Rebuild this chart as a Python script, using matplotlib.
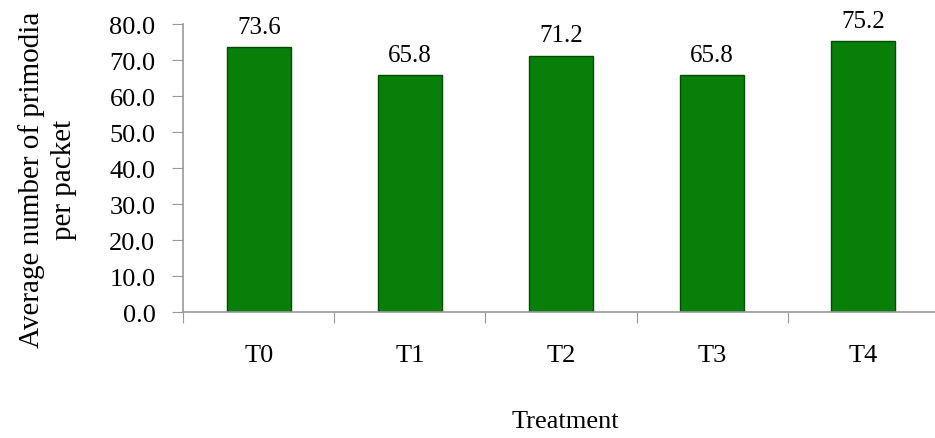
import numpy as np
import matplotlib
matplotlib.use("Agg")
import matplotlib.pyplot as plt

# Primordia counts per treatment
treatments = ["T0", "T1", "T2", "T3", "T4"]
primordia = [73.6, 65.8, 71.2, 65.8, 75.2]

plt.rcParams["font.family"] = ["Liberation Serif", "DejaVu Serif"]

fig = plt.figure(figsize=(9.35, 4.39), dpi=100)
ax = fig.add_axes([0.196, 0.287, 0.808, 0.656])

x = np.arange(len(treatments))
bars = ax.bar(x, primordia, width=0.42, color="#087f08",
              edgecolor="#034a03", linewidth=1.0)

for xi, v in zip(x, primordia):
    ax.text(xi, v + 2.6, f"{v:.1f}", ha="center", va="bottom", fontsize=18)

ax.set_ylim(0, 80)
ax.set_xlim(-0.5, len(treatments) - 0.5)
ax.set_yticks(np.arange(0, 81, 10))
ax.set_yticklabels([f"{t:.1f}" for t in np.arange(0, 81, 10)], fontsize=19)

# boundary ticks between categories, labels sit on minor ticks at the centres
ax.set_xticks(np.arange(-0.5, len(treatments), 1.0))
ax.set_xticklabels([])
ax.set_xticks(x, minor=True)
ax.set_xticklabels(treatments, minor=True, fontsize=19)
ax.tick_params(axis="x", which="minor", length=0, pad=23)
ax.tick_params(axis="x", which="major", length=8, color="#999999")
ax.tick_params(axis="y", length=8, color="#999999", pad=12)

for side in ["top", "right"]:
    ax.spines[side].set_visible(False)
for side in ["left", "bottom"]:
    ax.spines[side].set_color("#999999")
    ax.spines[side].set_linewidth(1.2)

fig.text(0.051, 0.59, "Average number of primodia\nper packet", rotation=90,
         ha="center", va="center", fontsize=21, linespacing=1.3)
fig.text(0.605, 0.039, "Treatment", ha="center", va="center", fontsize=19)

fig.savefig("out.png", dpi=100)
